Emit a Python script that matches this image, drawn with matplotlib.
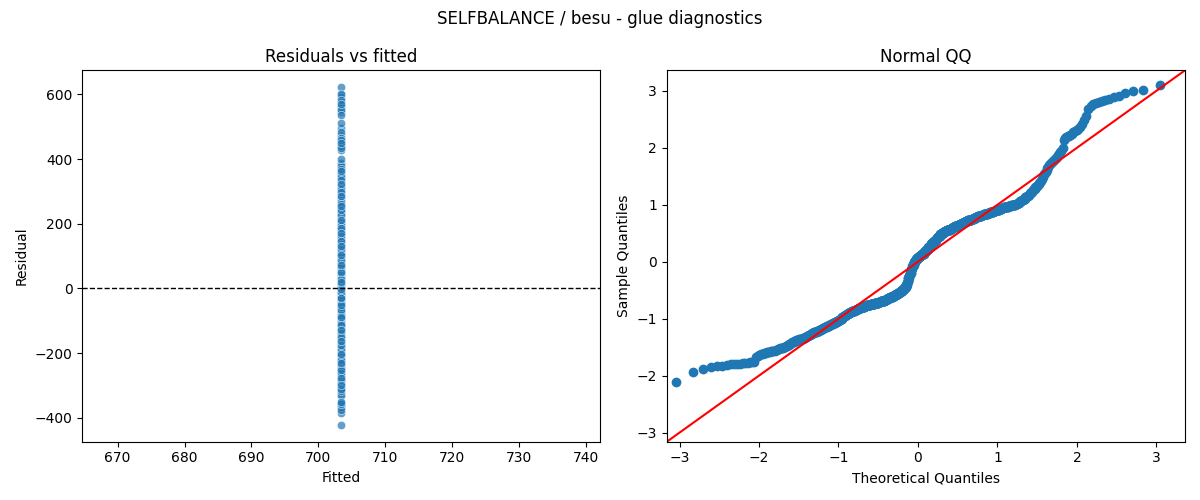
import numpy as np
import matplotlib
matplotlib.use('Agg')
from matplotlib import pyplot as plt
import seaborn as sns
from statistics import NormalDist

## DATA
# constant fitted value of the intercept-only model
FITTED = 703.4
resid_levels = [
    -422, -386, -376, -370, -366, -364, -362,
    -360, -358, -356,
    -355, -354, -352, -351, -350,
    -334, -330, -328,
    -323, -322, -320, -319, -317,
    -316, -314, -312,
    -310, -307, -304, -302,
    -298, -294, -291, -288, -285,
    -282, -280, -278, -276, -274,
    -272, -270, -267, -264,
    -261, -257, -253, -250, -247,
    -245, -241, -238, -234,
    -231, -228, -224, -221,
    -218, -214, -211, -207,
    -203, -199, -195, -191, -187,
    -184, -181, -177, -174, -172,
    -169, -166, -163, -160,
    -157, -155, -153, -151,
    -149, -147, -145, -143,
    -141, -138, -136, -133,
    -130, -127, -125, -122, -119,
    -115, -112, -109, -106, -103,
    -100, -96, -92, -88,
    -81, -74, -66, -58, -50, -44,
    -38, -30, -23, -16, -10, -5,
    -1, 3, 6, 9, 12, 15,
    18, 21, 23, 26, 29, 33, 37,
    41, 46, 51, 56, 61, 66, 71,
    73, 78, 83, 88, 92, 96, 99,
    101, 104, 107, 110, 113,
    116, 119, 121, 124, 127,
    130, 133, 136, 139,
    142, 145, 148, 151,
    154, 157, 160, 162,
    164, 167, 169, 171,
    174, 176, 179, 181,
    183, 186, 188, 191,
    193, 196, 199,
    201, 204, 208, 212,
    216, 221, 226, 232, 236,
    241, 246, 251, 256, 262, 267,
    269, 273, 277, 281, 285, 291, 297, 302, 307, 311,
    316, 322, 328, 334, 340, 344, 348, 351, 354,
    358, 362, 365, 369, 374, 379, 384, 389,
    399,
    428, 433, 437, 440, 443,
    446, 450, 454, 458, 462,
    465, 473, 483, 497, 511,
    536, 546, 552,
    556, 560, 564, 567, 570,
    577, 583, 593, 600, 602, 622,
]
resid_counts = [
    1, 1, 1, 1, 1, 1, 1,
    2, 2, 1,
    1, 1, 1, 1, 1,
    1, 1, 1,
    1, 1, 1, 1, 1,
    2, 2, 2,
    2, 2, 2, 2,
    2, 2, 2, 2, 1,
    2, 2, 2, 2, 2,
    3, 3, 3, 3,
    3, 3, 3, 3, 2,
    4, 4, 4, 4,
    4, 5, 5, 4,
    5, 5, 5, 5,
    4, 5, 4, 5, 4,
    5, 5, 5, 5, 5,
    6, 7, 7, 6,
    7, 7, 7, 7,
    8, 7, 8, 7,
    8, 8, 8, 7,
    7, 7, 7, 6, 6,
    7, 7, 7, 6, 6,
    4, 4, 4, 5,
    3, 3, 3, 3, 3, 3,
    3, 3, 3, 3, 3, 2,
    3, 3, 3, 3, 3, 3,
    5, 5, 5, 5, 5, 5, 4,
    5, 5, 5, 5, 5, 5, 5,
    5, 5, 5, 5, 5, 4, 4,
    6, 6, 7, 7, 7,
    6, 6, 7, 6, 6,
    8, 7, 8, 7,
    7, 7, 7, 7,
    7, 6, 7, 6,
    6, 6, 7, 6,
    5, 6, 5, 6,
    5, 5, 5, 5,
    6, 6, 6,
    4, 4, 4, 4,
    3, 3, 3, 3, 2,
    2, 2, 2, 2, 2, 2,
    1, 1, 1, 1, 1, 1, 1, 1, 1, 1,
    1, 1, 1, 1, 1, 1, 1, 1, 1,
    1, 1, 1, 1, 1, 1, 1, 1,
    1,
    1, 1, 1, 1, 1,
    1, 1, 1, 1, 1,
    1, 1, 1, 1, 1,
    1, 1, 1,
    1, 1, 1, 1, 1,
    1, 1, 1, 1, 1, 1,
]
QQ_LIMITS = (-3.16, 3.36)

residuals = np.repeat(resid_levels, resid_counts).astype(float)
n = len(residuals)
fitted = np.full(n, FITTED)

# normal QQ: standardised sample against normal quantiles at i/(n+1)
sample_q = np.sort((residuals - residuals.mean()) / residuals.std())
theo_q = np.array([NormalDist().inv_cdf(i / (n + 1)) for i in range(1, n + 1)])

# draw the scatter in a mixed (not sorted) order, like raw observations
draw_order = np.argsort((np.arange(n) * 379) % n)

fig, axes = plt.subplots(1, 2, figsize=(12, 5))
fig.suptitle('SELFBALANCE / besu - glue diagnostics')

# residuals vs fitted
ax = axes[0]
sns.scatterplot(x=fitted[draw_order], y=residuals[draw_order], ax=ax, alpha=0.7)
ax.axhline(0, color='black', linestyle='--', linewidth=1)
ax.set_title('Residuals vs fitted')
ax.set_xlabel('Fitted')
ax.set_ylabel('Residual')

# normal QQ plot with 45 degree reference line
ax = axes[1]
ax.plot(theo_q, sample_q, 'o', color='#1f77b4')
ax.plot(QQ_LIMITS, QQ_LIMITS, 'r-')
ax.set_xlim(QQ_LIMITS)
ax.set_ylim(QQ_LIMITS)
ax.set_title('Normal QQ')
ax.set_xlabel('Theoretical Quantiles')
ax.set_ylabel('Sample Quantiles')

fig.tight_layout()
fig.savefig('out.png', dpi=100)
